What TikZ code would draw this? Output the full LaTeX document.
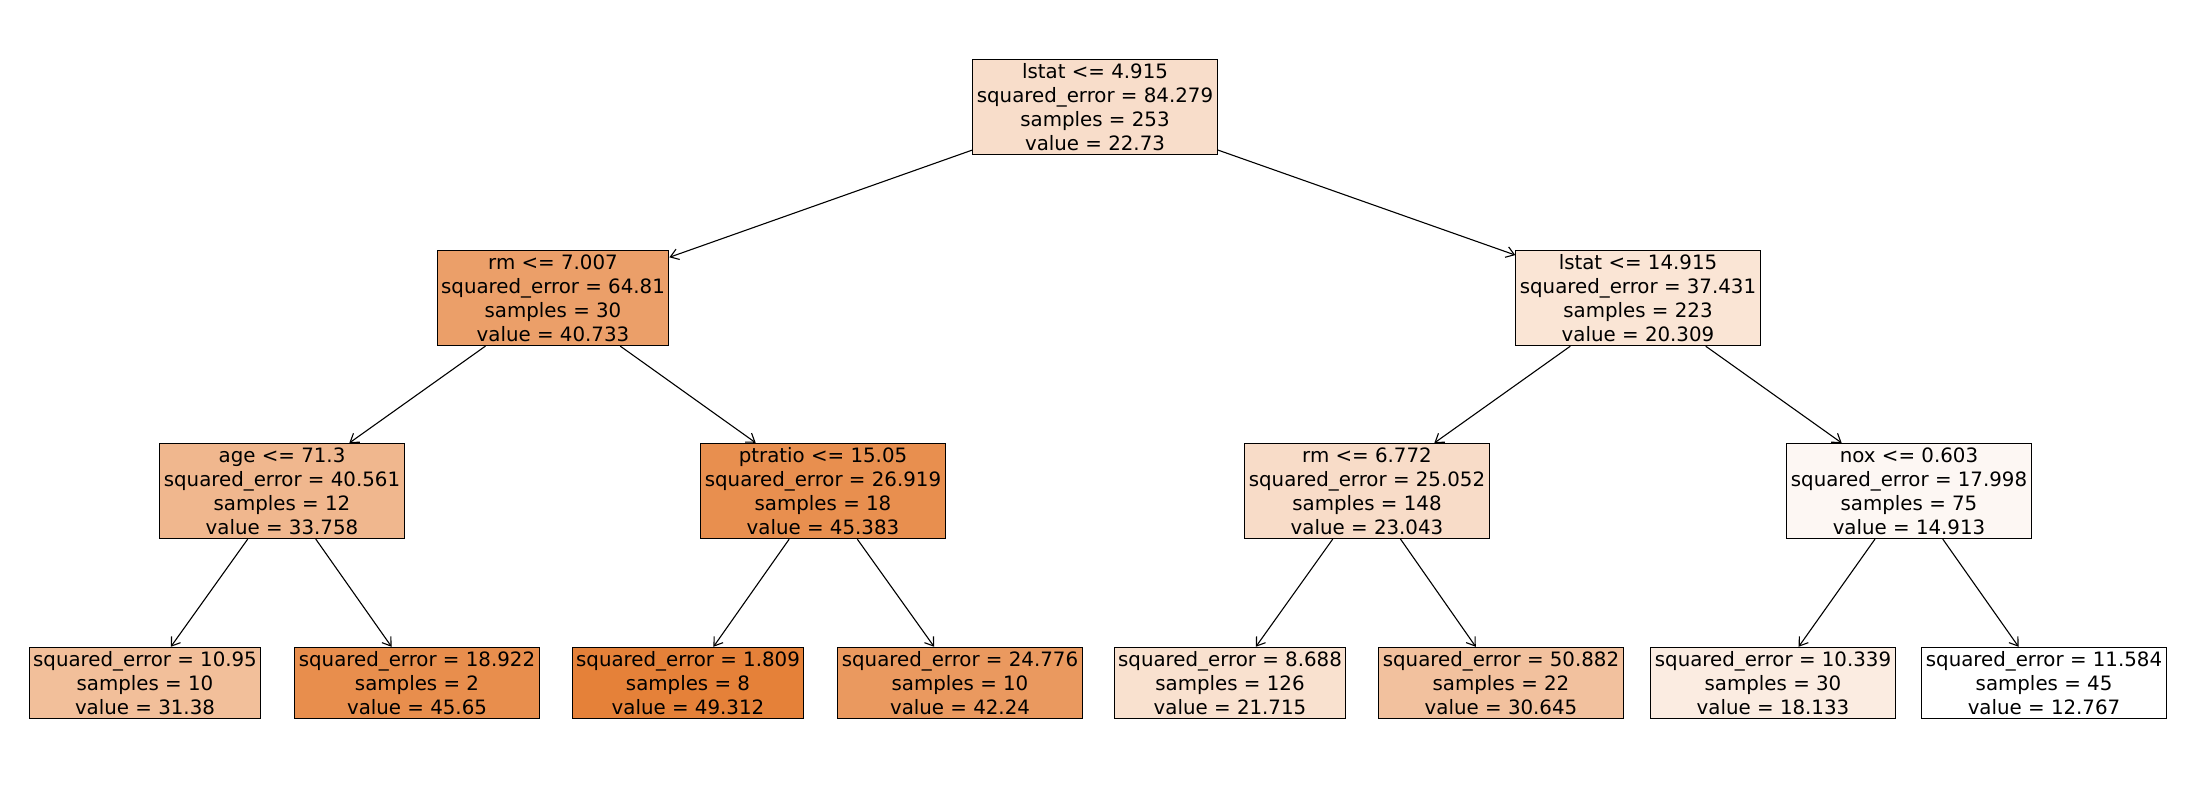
\documentclass[tikz,border=0pt]{standalone}
\usepackage{fontspec}
\setmainfont{DejaVu Sans}
\usetikzlibrary{arrows.meta}
\definecolor{leaforange}{RGB}{229,129,57}

\tikzset{
  treenode/.style={draw, line width=1.1pt, align=center, inner xsep=4pt, inner ysep=4pt,
    font=\fontsize{19.8}{24}\selectfont},
  edge/.style={-{Straight Barb[length=8pt,width=11pt]}, line width=1.1pt},
}

\begin{document}
\begin{tikzpicture}[x=1pt, y=-1pt]
\useasboundingbox (0,0) rectangle (2190,790);

% Root
\node[treenode, fill=leaforange!27!white] (root) at (1095,107)
  {lstat <= 4.915\\squared\_error = 84.279\\samples = 253\\value = 22.73};

% Depth 1
\node[treenode, fill=leaforange!76!white] (l) at (553,298)
  {rm <= 7.007\\squared\_error = 64.81\\samples = 30\\value = 40.733};
\node[treenode, fill=leaforange!21!white] (r) at (1638,298)
  {lstat <= 14.915\\squared\_error = 37.431\\samples = 223\\value = 20.309};

% Depth 2
\node[treenode, fill=leaforange!57!white] (ll) at (282,491)
  {age <= 71.3\\squared\_error = 40.561\\samples = 12\\value = 33.758};
\node[treenode, fill=leaforange!89!white] (lr) at (823,491)
  {ptratio <= 15.05\\squared\_error = 26.919\\samples = 18\\value = 45.383};
\node[treenode, fill=leaforange!28!white] (rl) at (1367,491)
  {rm <= 6.772\\squared\_error = 25.052\\samples = 148\\value = 23.043};
\node[treenode, fill=leaforange!6!white] (rr) at (1909,491)
  {nox <= 0.603\\squared\_error = 17.998\\samples = 75\\value = 14.913};

% Leaves
\node[treenode, fill=leaforange!51!white] (lll) at (145,683)
  {squared\_error = 10.95\\samples = 10\\value = 31.38};
\node[treenode, fill=leaforange!90!white] (llr) at (417,683)
  {squared\_error = 18.922\\samples = 2\\value = 45.65};
\node[treenode, fill=leaforange] (lrl) at (688,683)
  {squared\_error = 1.809\\samples = 8\\value = 49.312};
\node[treenode, fill=leaforange!81!white] (lrr) at (960,683)
  {squared\_error = 24.776\\samples = 10\\value = 42.24};
\node[treenode, fill=leaforange!24!white] (rll) at (1230,683)
  {squared\_error = 8.688\\samples = 126\\value = 21.715};
\node[treenode, fill=leaforange!49!white] (rlr) at (1501,683)
  {squared\_error = 50.882\\samples = 22\\value = 30.645};
\node[treenode, fill=leaforange!15!white] (rrl) at (1773,683)
  {squared\_error = 10.339\\samples = 30\\value = 18.133};
\node[treenode, fill=white] (rrr) at (2044,683)
  {squared\_error = 11.584\\samples = 45\\value = 12.767};

% Edges
\foreach \a/\b in {root/l, root/r, l/ll, l/lr, r/rl, r/rr,
    ll/lll, ll/llr, lr/lrl, lr/lrr, rl/rll, rl/rlr, rr/rrl, rr/rrr}
  \draw[edge] (\a) -- (\b);
\end{tikzpicture}
\end{document}
